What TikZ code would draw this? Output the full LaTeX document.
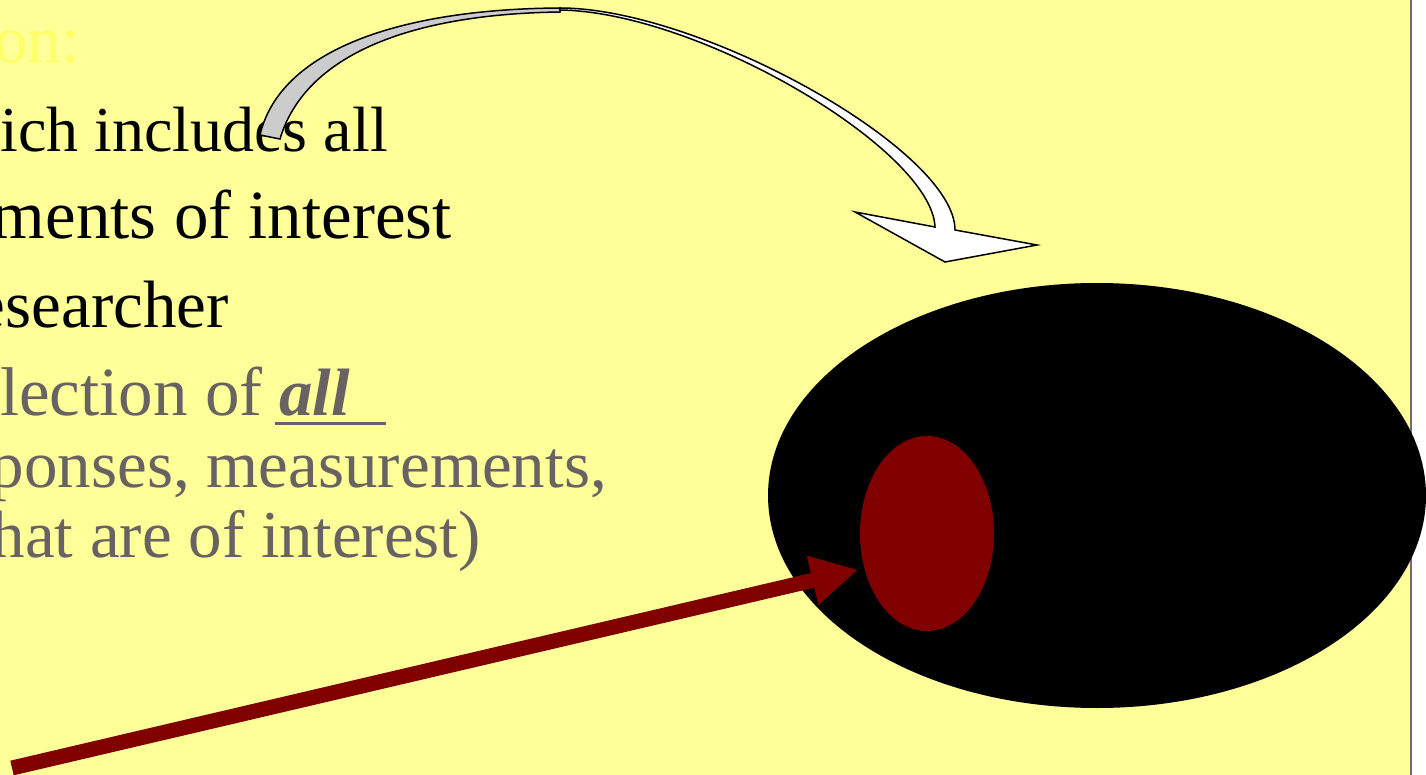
\documentclass[tikz,border=0pt]{standalone}
\usepackage{fontspec}
\setmainfont{Liberation Serif}
\usetikzlibrary{shapes.geometric,arrows.meta}
\definecolor{bgyellow}{RGB}{255,255,153}
\definecolor{titleyellow}{RGB}{255,255,102}
\definecolor{txtgray}{RGB}{104,98,98}
\definecolor{darkred}{RGB}{128,0,0}
\definecolor{ribbongray}{RGB}{204,204,204}
\definecolor{edgegray}{RGB}{110,110,110}
\begin{document}
\begin{tikzpicture}[x=1pt,y=-1pt,
  txt/.style={inner sep=0pt, anchor=base east, font=\fontsize{67}{72}\selectfont},
  blacktxt/.style={txt, text=black},
  graytxt/.style={txt, text=txtgray},
  ribbonback/.style={draw=black, fill=ribbongray, line width=1.5pt, line join=miter},
  ribbonfront/.style={draw=black, fill=white, line width=1.5pt, line join=miter},
  blob/.style={ellipse, inner sep=0pt, draw=none},
  redarrow/.style={darkred, line width=15pt, -{Triangle[length=47pt,width=47pt]}}]
\useasboundingbox (0,0) rectangle (1426,775);
\fill[white] (0,0) rectangle (1426,775);
\fill[bgyellow] (0,0) rectangle (1411,775);
\draw[edgegray, line width=1.5pt] (1411,0) -- (1411,775);

% texts
\node[txt, text=titleyellow] (title) at (80,63) {on:};
\node[blacktxt, font=\fontsize{64}{72}\selectfont] (l1) at (388,152) {ich includes all};
\node[blacktxt, font=\fontsize{69}{72}\selectfont] (l2) at (452,239) {ments of interest};
\node[blacktxt] (l3) at (229,327) {esearcher};
\node[graytxt, font=\fontsize{67}{72}\selectfont\bfseries\itshape] (all) at (350,415) {all};
\node[graytxt, font=\fontsize{69}{72}\selectfont] (l4) at ([xshift=-16pt]all.base west) {lection of};
\coordinate (ulend) at (386,423);
\draw[txtgray, line width=3pt] ([xshift=-4pt]all.base west |- ulend) -- (ulend);
\node[graytxt] (l5) at (607,487) {ponses, measurements,};
\node[graytxt] (l6) at (481,557) {hat are of interest)};

% curved ribbon arrow
\draw[ribbonback] (260,135) .. controls (280,50) and (400,9) .. (560,8)
  -- (560,12) .. controls (410,14) and (305,55) .. (280,139) -- cycle;
\draw[ribbonfront] (560,8) .. controls (700,8) and (955,150) .. (955,230)
  -- (1037,245) -- (945,262) -- (855,212) -- (935,227)
  .. controls (932,150) and (700,12) .. (560,10) -- cycle;

% ellipses
\node[blob, fill=black, minimum width=658pt, minimum height=425pt] (pop) at (1097,495.5) {};
\node[blob, fill=darkred, minimum width=134pt, minimum height=195pt] (samp) at (927,533.5) {};

% red arrow
\coordinate (tail) at (12,768);
\draw[redarrow, shorten >=6pt] (tail) -- (samp.209);
\end{tikzpicture}
\end{document}
